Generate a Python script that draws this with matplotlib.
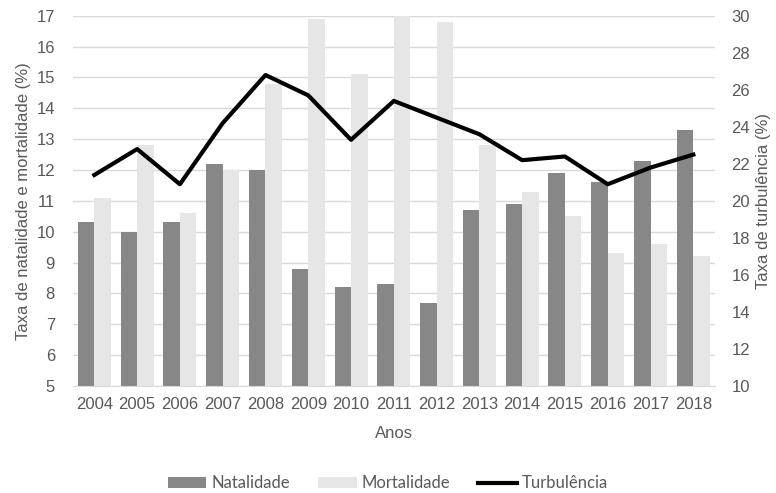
import numpy as np
import matplotlib.pyplot as plt

plt.rcParams['font.family'] = ['Liberation Sans', 'DejaVu Sans']

anos = ['2004', '2005', '2006', '2007', '2008', '2009', '2010', '2011',
        '2012', '2013', '2014', '2015', '2016', '2017', '2018']
natalidade = [10.3, 10.0, 10.3, 12.2, 12.0, 8.8, 8.2, 8.3, 7.7, 10.7, 10.9, 11.9, 11.6, 12.3, 13.3]
mortalidade = [11.1, 12.8, 10.6, 12.0, 14.8, 16.9, 15.1, 17.0, 16.8, 12.8, 11.3, 10.5, 9.3, 9.6, 9.2]
turbulencia = [21.4, 22.8, 20.9, 24.2, 26.8, 25.7, 23.3, 25.4, 24.5, 23.6, 22.2, 22.4, 20.9, 21.8, 22.5]

text_color = '#595959'
grid_color = '#d9d9d9'

fig = plt.figure(figsize=(7.76, 4.93), dpi=100)
ax = fig.add_axes([0.094, 0.217, 0.827, 0.751])
ax2 = ax.twinx()

x = np.arange(len(anos))
w = 0.385
ax.bar(x - w / 2, natalidade, w, color='#878787', label='Natalidade', zorder=2)
ax.bar(x + w / 2, mortalidade, w, color='#e6e6e6', label='Mortalidade', zorder=2)
ax2.plot(x, turbulencia, color='black', lw=3, label='Turbulência', zorder=3)

ax.set_xlim(-0.5, len(anos) - 0.5)
ax.set_ylim(5, 17)
ax.set_yticks(range(5, 18))
ax2.set_ylim(10, 30)
ax2.set_yticks(range(10, 31, 2))
ax.set_xticks(x)
ax.set_xticklabels(anos)

ax.yaxis.grid(True, color=grid_color, lw=1, zorder=0)
ax.set_axisbelow(True)
for a in (ax, ax2):
    for s in a.spines.values():
        s.set_visible(False)
    a.tick_params(length=0, colors=text_color, labelsize=12)
ax.spines['bottom'].set_visible(True)
ax.spines['bottom'].set_color(grid_color)
ax.tick_params(axis='x', pad=8)
ax.tick_params(axis='y', pad=13)
ax2.tick_params(axis='y', pad=12)

ax.set_xlabel('Anos', color=text_color, fontsize=12, labelpad=10)
ax.set_ylabel('Taxa de natalidade e mortalidade (%)', color=text_color, fontsize=12, labelpad=4)
ax2.set_ylabel('Taxa de turbulência (%)', color=text_color, fontsize=12, labelpad=4)

h1, l1 = ax.get_legend_handles_labels()
h2, l2 = ax2.get_legend_handles_labels()
fig.legend(h1 + h2, l1 + l2, loc='center', bbox_to_anchor=(0.5, 0.02), ncol=3,
           frameon=False, labelcolor=text_color, handlelength=2.3,
           handleheight=0.6, columnspacing=1.7, handletextpad=0.3,
           prop={'family': ['Lato', 'DejaVu Sans'], 'size': 12})

fig.savefig('out.png', dpi=100)
